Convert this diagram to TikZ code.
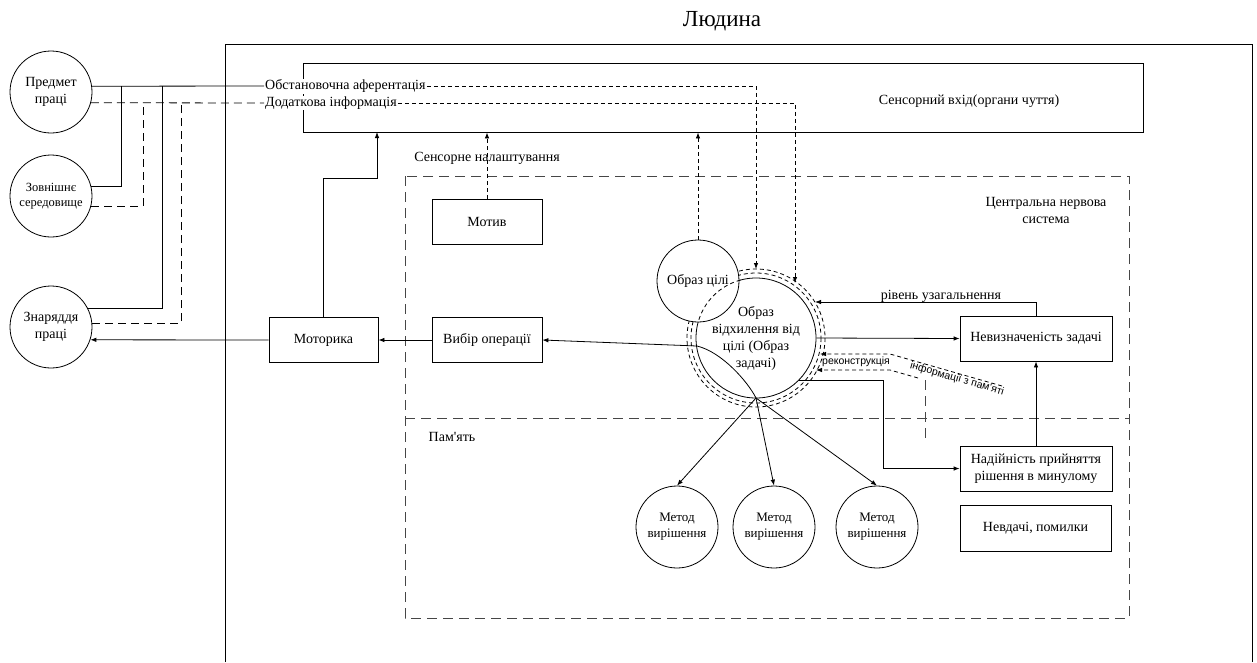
\documentclass[tikz,border=0pt]{standalone}
\usepackage{fontspec}
\setmainfont{Liberation Serif}
\newfontfamily\labelsans{Liberation Sans}
\usetikzlibrary{arrows.meta,calc}
\definecolor{zonegray}{RGB}{70,70,70}
\tikzset{
  link/.style={line width=0.8pt},
  arr/.style={-{Latex[length=6pt,width=4.5pt]}},
  blk/.style={draw, link, minimum width=110pt, minimum height=45pt, inner sep=1pt, align=center},
  ring/.style={draw, circle, link, minimum size=82pt, inner sep=0pt, align=center},
  zone/.style={draw=zonegray, line width=1pt, dash pattern=on 10pt off 6pt},
  fine/.style={dash pattern=on 4pt off 3pt},
  longdash/.style={dash pattern=on 8pt off 5pt}
}

\begin{document}
\begin{tikzpicture}[x=1pt, y=-1pt, font=\fontsize{14}{17}\selectfont]
\useasboundingbox (0,0) rectangle (1257,662);

% ============ TITLE + OUTER FRAME ============
\node (title) at (722,21) {\fontsize{23}{27}\selectfont Людина};
\draw[line width=0.9pt] (225,662) -- (225,44) -- (1252,44) -- (1252,662);

% ============ ZONES: nervous system (top) and memory (bottom) ============
\draw[zone] (405,176) rectangle (1129,618);
\draw[zone] (405,418) -- (1129,418);
\node[align=center] (cns) at (1046,210) {Центральна нервова\\система};
\node (mem) at (452,437) {Пам\textquotesingle ять};

% ============ SENSORY INPUT ============
\node[draw, link, minimum width=840pt, minimum height=69pt] (sens) at (723,97.5) {};
\node (senstext) at (969,101) {Сенсорний вхід(органи чуття)};
\node[fill=white, anchor=west, inner sep=1pt] (aff) at (264,86) {Обстановочна аферентація};
\node[fill=white, anchor=west, inner sep=1pt] (dod) at (264,103) {Додаткова інформація};

% ============ ENVIRONMENT (left column) ============
\node[ring] (predmet) at (51,92) {Предмет\\праці};
\node[ring, font=\fontsize{12.5}{15}\selectfont] (zovn) at (51,196) {Зовнішнє\\середовище};
\node[ring] (znar) at (51,327) {Знаряддя\\праці};

\coordinate (jz)  at (121,86);
\coordinate (jzd) at (143,103);
\coordinate (jn)  at (162,86);
\coordinate (jnd) at (181,103);

\draw[link] (predmet.8) -- (aff.west);
\draw[link, longdash] (predmet.-15) -- (dod.west);
\draw[link] (zovn.14) -| (jz);
\draw[link, longdash] (zovn.-14) -| (jzd);
\draw[link] (znar.26) -| (jn);
\draw[link, longdash] (znar.5) -| (jnd);

% ============ MOTOR CHAIN ============
\node[blk, minimum width=109pt] (motor) at (323.5,340) {Моторика};
\node[blk] (vybir) at (487,340) {Вибір операції};
\node[blk] (motiv) at (487,221.5) {Мотив};
\node (sensn) at (487,158) {Сенсорне налаштування};

\coordinate (sensM) at (377,132);
\draw[link, arr] (motor.west) -- (znar.-18);
\draw[link, arr] (vybir.west) -- (motor.east);
\draw[link, arr] (motor.north) |- (377,178) -- (sensM);
\draw[link, fine, arr] (motiv.north) -- (motiv.north |- sens.south);

% ============ TASK IMAGE (double dashed ring) ============
\coordinate (tc) at (756,338);
\draw[link, fine] (tc) circle (65);
\draw[link, fine] (tc) circle (69);
\node[circle, draw, link, minimum size=120pt, inner sep=0pt, align=center] (task) at (tc)
  {Образ\\відхилення від\\цілі (Образ\\задачі)};
\node[ring, fill=white] (goal) at (698,281) {Образ цілі};
\draw[link, fine] (tc) ++(-105:60) arc (-105:-165:60); % hidden part of the task circle
\draw[link, fine, arr] (goal.north) -- (goal.north |- sens.south);

\coordinate (ringT) at (756,269);
\coordinate (ringB) at (795,283);
\draw[link, fine, arr] (aff.east) -| (ringT);
\draw[link, fine, arr] (dod.east) -| (ringB);

% ============ UNCERTAINTY / RELIABILITY ============
\node[blk, minimum width=152pt] (unc) at (1036,338.5) {Невизначеність задачі};
\node[blk, minimum width=152pt] (rel) at (1036,468.5) {Надійність прийняття\\рішення в минулому};
\node[blk, minimum width=151pt, minimum height=46pt] (fail) at (1035.5,528) {Невдачі, помилки};

\coordinate (ringR) at (815,302);
\draw[link, arr] (rel.north) -- (unc.south);
\draw[link, arr] (task.east) -- (unc.west);
\draw[link, arr] (unc.north) |- (ringR);
\node[anchor=base] (lvl) at (941,299) {рівень узагальнення};
\draw[link, arr] (task.-45) -| ($(rel.west)+(-76,0)$) -- (rel.west);

% reconstruction from memory
\coordinate (rcA) at (820,354);
\coordinate (rcB) at (816,370);
\draw[link, fine, arr] (1002,386) -- (890,354) -- (rcA);
\draw[link, fine, arr] (918,378) -- (890,370) -- (rcB);
\draw[zone] (925,380) -- (925,442);
\node[font=\labelsans\fontsize{10.5}{12}\selectfont, inner sep=0pt] (rc1) at (856,362) {реконструкція};
\node[font=\labelsans\fontsize{10.5}{12}\selectfont, inner sep=0pt, rotate=-16] (rc2) at (957,379) {інформації з пам\textquotesingle яті};

% ============ SOLUTION METHODS ============
\coordinate (split) at (756,398);
\coordinate (bendL) at (697,346);
\foreach \i/\x in {1/677,2/774,3/877}{
  \node[ring, font=\fontsize{13}{16}\selectfont] (method\i) at (\x,527) {Метод\\вирішення};
  \draw[link, arr] (split) -- (method\i.north);
}
\draw[link, arr] (split) .. controls (748,382) and (722,352) .. (bendL) -- (vybir.east);
\end{tikzpicture}
\end{document}
